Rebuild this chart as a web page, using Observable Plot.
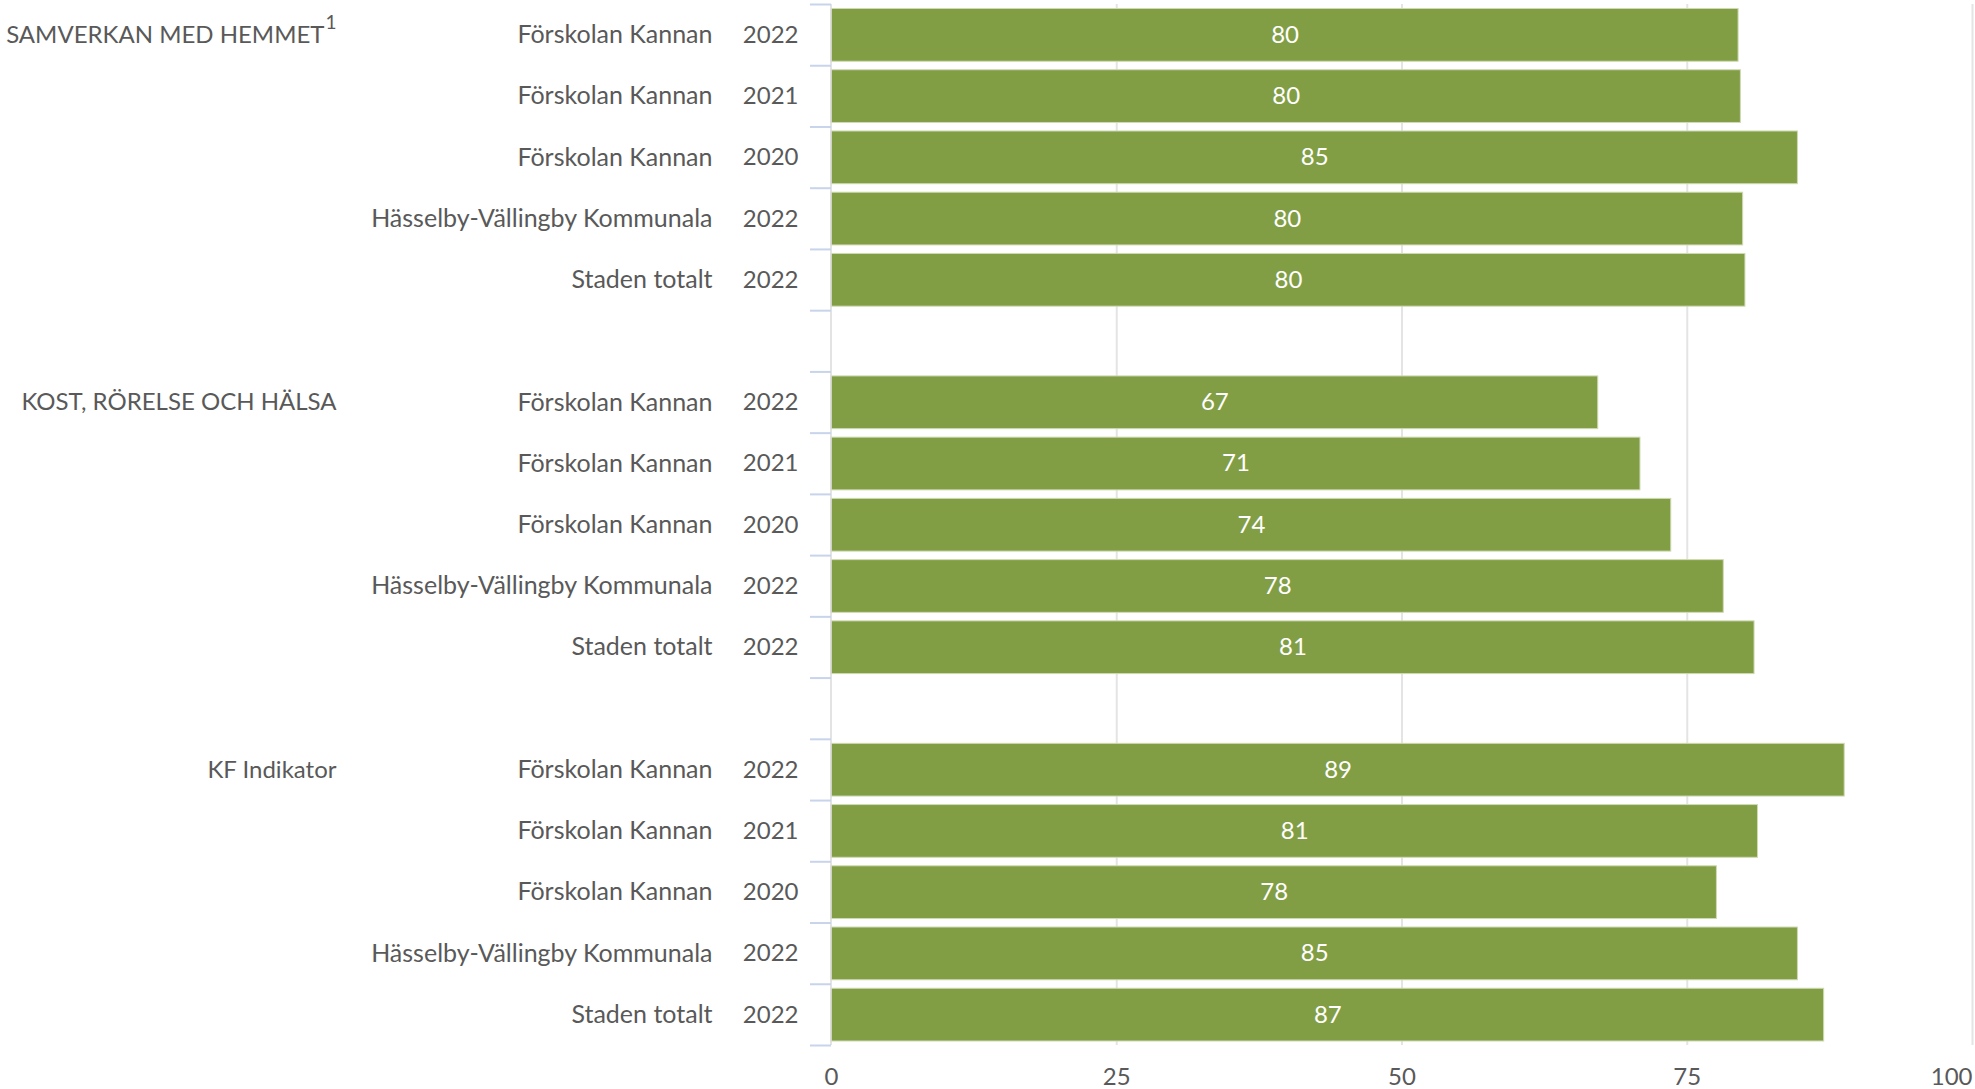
<!DOCTYPE html>
<html>
<head>
<meta charset="utf-8">
<script src="https://cdn.jsdelivr.net/npm/d3@7"></script>
<script src="https://cdn.jsdelivr.net/npm/@observablehq/plot@0.6"></script>
<style>
  html, body { margin: 0; padding: 0; background: #ffffff; }
  #chart { width: 1975px; height: 1089px; overflow: hidden; }
</style>
</head>
<body>
<div id="chart"></div>
<script>
// ---- data ----
const groups = ["SAMVERKAN MED HEMMET", "KOST, RÖRELSE OCH HÄLSA", "KF Indikator"];
const groupNotes = ["1", "", ""];
const units = ["Förskolan Kannan", "Förskolan Kannan", "Förskolan Kannan", "Hässelby-Vällingby Kommunala", "Staden totalt"];
const years = ["2022", "2021", "2020", "2022", "2022"];
const samverkan = [79.5, 79.7, 84.7, 79.9, 80.1];
const kost = [67.2, 70.9, 73.6, 78.2, 80.9];
const kfIndikator = [88.8, 81.2, 77.6, 84.7, 87.0];
const xTicks = [0, 25, 50, 75];
const xEndTick = [100];

// ---- table built from the arrays ----
const seriesByGroup = [samverkan, kost, kfIndikator];
const rowsPerGroup = units.length + 1; // one blank row between groups
const rowCount = groups.length * rowsPerGroup - 1;
const rows = [];
seriesByGroup.forEach((vals, g) => {
  vals.forEach((v, k) => {
    rows.push({group: groups[g], unit: units[k], year: years[k], value: v, idx: g * rowsPerGroup + k});
  });
});
const unitByTick = new Map(rows.map(r => [r.idx + 0.5, r.unit]));
const yearByTick = new Map(rows.map(r => [r.idx + 0.5, r.year]));
const groupByTick = new Map(groups.map((g, i) => [i * rowsPerGroup + 0.5, g]));
const boundaries = d3.range(0, rowCount + 1);

const textColor = "#595959";
const barColor = "#829e45";

const plot = Plot.plot({
  width: 1975,
  height: 1089,
  marginTop: 4,
  marginBottom: 44,
  marginLeft: 831,
  marginRight: 3,
  style: {fontFamily: "Lato, 'Open Sans', sans-serif", fontSize: "24px", color: textColor, background: "#ffffff"},
  x: {domain: [0, 100]},
  y: {domain: [0, rowCount], reverse: true},
  marks: [
    Plot.ruleX([25, 50, 75, 100], {stroke: "#e4e4e4", strokeWidth: 2}),
    Plot.rectX(rows, {
      x: d => d.value,
      y1: d => d.idx,
      y2: d => d.idx + 1,
      insetTop: 4.5,
      insetBottom: 4,
      fill: barColor,
      stroke: "#cfdab4",
      strokeWidth: 1
    }),
    Plot.ruleX([0], {stroke: "#dadada", strokeWidth: 1.5, dx: -0.5}),
    Plot.text(rows, {
      x: d => d.value / 2,
      y: d => d.idx + 0.5,
      text: d => d3.format(".0f")(d.value),
      fill: "#ffffff",
      fontSize: 24
    }),
    // blue tick marks at the row boundaries
    Plot.axisY({ticks: boundaries, tickSize: 21, tickFormat: () => "", stroke: "#c8d4eb", strokeWidth: 2, label: null}),
    // year column
    Plot.axisY({ticks: [...yearByTick.keys()], tickFormat: t => yearByTick.get(t), tickSize: 0, tickPadding: 33, label: null, fill: textColor, fontSize: 24}),
    // unit column
    Plot.axisY({ticks: [...unitByTick.keys()], tickFormat: t => unitByTick.get(t), tickSize: 0, tickPadding: 119, label: null, fill: textColor, fontSize: 25}),
    // group column
    Plot.axisY({ticks: [...groupByTick.keys()], tickFormat: t => groupByTick.get(t), tickSize: 0, tickPadding: 495, label: null, fill: textColor, fontSize: 24}),
    // x axis
    Plot.axisX({ticks: xTicks, tickSize: 0, tickPadding: 22, label: null, fill: textColor}),
    Plot.axisX({ticks: xEndTick, tickSize: 0, tickPadding: 22, label: null, fill: textColor, textAnchor: "end"})
  ]
});

// footnote marker as a superscript on the group label
d3.select(plot).selectAll("text").each(function() {
  const i = groups.indexOf(this.textContent);
  if (i >= 0 && groupNotes[i]) {
    d3.select(this).append("tspan")
      .attr("dx", 1)
      .attr("dy", "-0.72em")
      .attr("font-size", 19)
      .text(groupNotes[i]);
  }
});

document.getElementById("chart").appendChild(plot);
</script>
</body>
</html>
